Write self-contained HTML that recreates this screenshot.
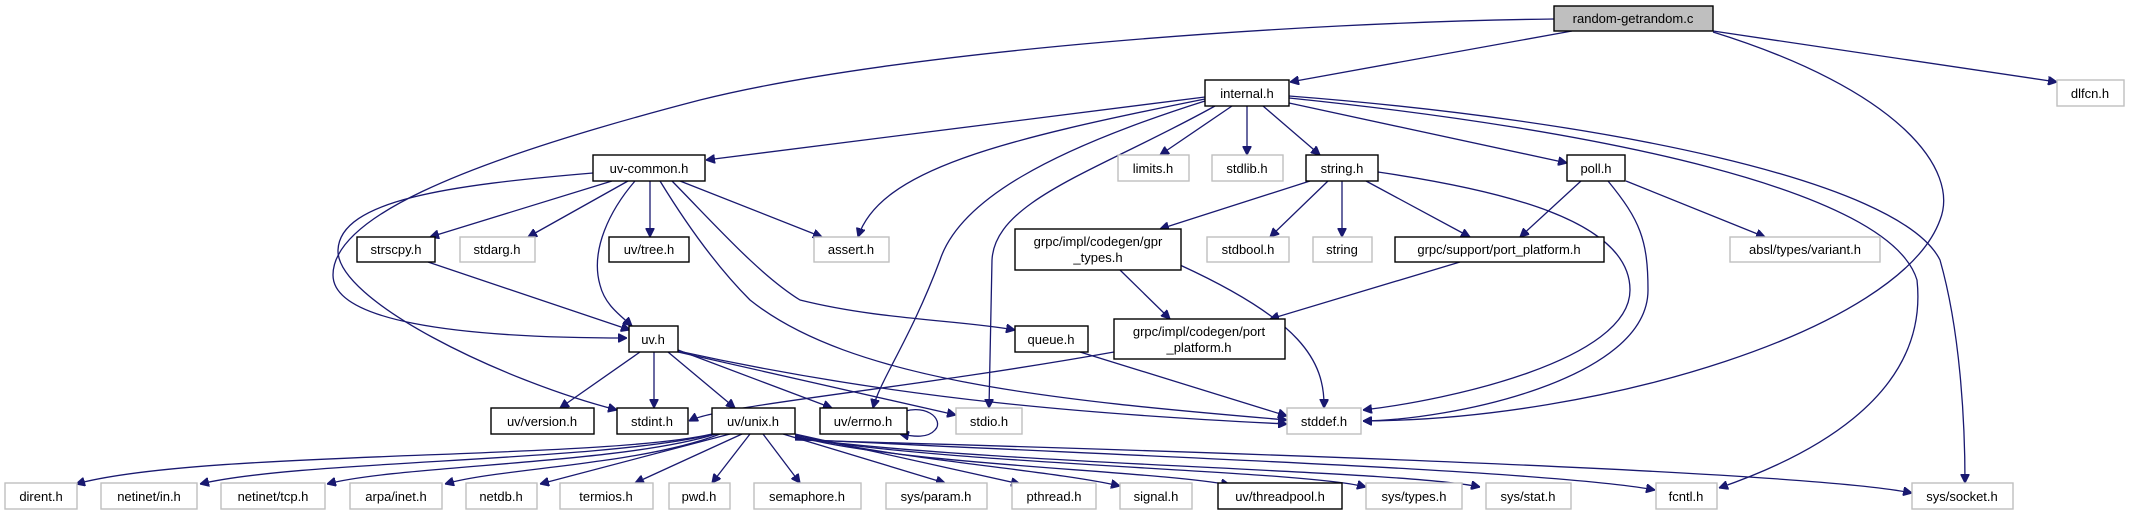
<!DOCTYPE html>
<html><head><meta charset="utf-8"><style>
html,body{margin:0;padding:0;background:#fff;}
svg{display:block}
text{font-family:"Liberation Sans",sans-serif;font-size:13px;fill:#000;text-anchor:middle}
.b{fill:#fff;stroke:#000;stroke-width:1.4}
.g{fill:#fff;stroke:#bfbfbf;stroke-width:1.4}
path{fill:none;stroke:#191970;stroke-width:1.3}
</style></head><body>
<svg width="2129" height="515" viewBox="0 0 2129 515" xmlns="http://www.w3.org/2000/svg">
<defs><marker id="a" viewBox="0 0 10 10" refX="10" refY="5" markerWidth="9" markerHeight="9" markerUnits="userSpaceOnUse" orient="auto"><path d="M0,0 L10,5 L0,10 z" style="fill:#191970;stroke:#191970"/></marker></defs>
<g marker-end="url(#a)">
<path d="M1554,19 C1300,22 900,50 700,100 C450,165 333,220 333,275 C333,320 450,338 627,338"/>
<path d="M1572,31 L1290,82"/>
<path d="M1713,31 L2057,82"/>
<path d="M1713,32 C1900,90 1960,170 1940,220 C1900,330 1600,420 1363,421"/>
<path d="M1205,97 L706,160"/>
<path d="M1205,99 C1000,140 880,170 858,237"/>
<path d="M1205,101 C1050,150 960,200 940,260 C910,340 880,380 873,408"/>
<path d="M1215,106 C1100,170 995,200 992,260 L989,408"/>
<path d="M1232,106 L1160,155"/>
<path d="M1247,106 L1247,155"/>
<path d="M1263,106 L1320,155"/>
<path d="M1289,103 L1567,163"/>
<path d="M1289,96 C1600,120 1900,180 1940,260 C1960,330 1965,420 1965,483"/>
<path d="M1289,98 C1600,130 1890,190 1917,280 C1930,400 1800,460 1719,488"/>
<path d="M612,181 L430,237"/>
<path d="M628,181 L528,237"/>
<path d="M650,181 L650,237"/>
<path d="M680,181 L822,237"/>
<path d="M635,181 C610,210 590,250 600,285 C605,305 620,315 632,326"/>
<path d="M593,173 C450,185 340,200 338,250 C336,300 500,380 617,410"/>
<path d="M672,181 C720,230 760,275 800,300 C880,320 960,320 1015,330"/>
<path d="M660,181 C690,230 720,270 750,300 C850,380 1050,400 1287,420"/>
<path d="M428,262 L630,330"/>
<path d="M640,352 L560,408"/>
<path d="M654,352 L654,408"/>
<path d="M668,352 L735,408"/>
<path d="M678,350 L832,408"/>
<path d="M678,352 L956,415"/>
<path d="M678,351 C900,400 1100,415 1287,424"/>
<path d="M1120,270 L1170,319"/>
<path d="M1180,265 C1300,320 1325,360 1324,408"/>
<path d="M1460,262 L1270,319"/>
<path d="M1114,352 C900,390 720,405 689,421"/>
<path d="M1080,352 L1287,416"/>
<path d="M1310,181 L1160,229"/>
<path d="M1328,181 L1270,237"/>
<path d="M1342,181 L1342,237"/>
<path d="M1366,181 L1470,237"/>
<path d="M1378,172 C1500,190 1630,220 1630,290 C1630,360 1450,400 1363,410"/>
<path d="M1581,181 L1520,237"/>
<path d="M1626,181 L1765,237"/>
<path d="M1608,181 C1640,220 1648,240 1648,290 C1648,380 1450,420 1363,421"/>
<path d="M895,415 C925,400 945,420 935,430 C928,438 915,437 900,434"/>
<path d="M712,434 C600,460 200,450 76,484"/>
<path d="M714,434 C600,462 300,460 200,484"/>
<path d="M716,434 C620,464 400,465 327,484"/>
<path d="M720,434 C640,465 500,468 445,484"/>
<path d="M730,434 L540,484"/>
<path d="M742,434 L635,483"/>
<path d="M750,434 L712,483"/>
<path d="M763,434 L800,483"/>
<path d="M783,434 L945,483"/>
<path d="M795,434 L1020,484"/>
<path d="M795,435 C900,460 1050,470 1120,486"/>
<path d="M795,436 C900,465 1150,470 1230,485"/>
<path d="M795,437 C950,465 1300,470 1366,487"/>
<path d="M795,438 C1000,465 1400,470 1480,487"/>
<path d="M795,439 C1100,455 1550,470 1655,490"/>
<path d="M795,440 C1150,450 1800,470 1912,493"/>
</g>
<g>
<rect x="1554" y="6" width="159" height="25" style="fill:#bfbfbf;stroke:#000;stroke-width:1.4"/><text x="1633" y="23">random-getrandom.c</text>
<rect class="b" x="1205" y="80" width="84" height="26"/><text x="1247" y="98">internal.h</text>
<rect class="g" x="2057" y="80" width="67" height="26"/><text x="2090" y="98">dlfcn.h</text>
<rect class="b" x="593" y="155" width="112" height="26"/><text x="649" y="173">uv-common.h</text>
<rect class="g" x="1118" y="155" width="71" height="26"/><text x="1153" y="173">limits.h</text>
<rect class="g" x="1212" y="155" width="71" height="26"/><text x="1247" y="173">stdlib.h</text>
<rect class="b" x="1306" y="155" width="72" height="26"/><text x="1342" y="173">string.h</text>
<rect class="b" x="1567" y="155" width="58" height="26"/><text x="1596" y="173">poll.h</text>
<rect class="b" x="357" y="237" width="78" height="25"/><text x="396" y="254">strscpy.h</text>
<rect class="g" x="460" y="237" width="75" height="25"/><text x="497" y="254">stdarg.h</text>
<rect class="b" x="609" y="237" width="80" height="25"/><text x="649" y="254">uv/tree.h</text>
<rect class="g" x="814" y="237" width="75" height="25"/><text x="851" y="254">assert.h</text>
<rect class="b" x="1015" y="229" width="166" height="41"/><text x="1098" y="246">grpc/impl/codegen/gpr</text><text x="1098" y="262">_types.h</text>
<rect class="g" x="1207" y="237" width="82" height="25"/><text x="1248" y="254">stdbool.h</text>
<rect class="g" x="1313" y="237" width="59" height="25"/><text x="1342" y="254">string</text>
<rect class="b" x="1395" y="237" width="209" height="25"/><text x="1499" y="254">grpc/support/port_platform.h</text>
<rect class="g" x="1730" y="237" width="150" height="25"/><text x="1805" y="254">absl/types/variant.h</text>
<rect class="b" x="629" y="326" width="49" height="26"/><text x="653" y="344">uv.h</text>
<rect class="b" x="1015" y="326" width="73" height="26"/><text x="1051" y="344">queue.h</text>
<rect class="b" x="1114" y="319" width="171" height="40"/><text x="1199" y="336">grpc/impl/codegen/port</text><text x="1199" y="352">_platform.h</text>
<rect class="b" x="491" y="408" width="103" height="26"/><text x="542" y="426">uv/version.h</text>
<rect class="b" x="617" y="408" width="71" height="26"/><text x="652" y="426">stdint.h</text>
<rect class="b" x="712" y="408" width="83" height="26"/><text x="753" y="426">uv/unix.h</text>
<rect class="b" x="820" y="408" width="87" height="26"/><text x="863" y="426">uv/errno.h</text>
<rect class="g" x="956" y="408" width="66" height="26"/><text x="989" y="426">stdio.h</text>
<rect class="g" x="1287" y="408" width="74" height="26"/><text x="1324" y="426">stddef.h</text>
<rect class="g" x="5" y="483" width="72" height="26"/><text x="41" y="501">dirent.h</text>
<rect class="g" x="101" y="483" width="96" height="26"/><text x="149" y="501">netinet/in.h</text>
<rect class="g" x="221" y="483" width="104" height="26"/><text x="273" y="501">netinet/tcp.h</text>
<rect class="g" x="350" y="483" width="92" height="26"/><text x="396" y="501">arpa/inet.h</text>
<rect class="g" x="466" y="483" width="71" height="26"/><text x="501" y="501">netdb.h</text>
<rect class="g" x="560" y="483" width="93" height="26"/><text x="606" y="501">termios.h</text>
<rect class="g" x="669" y="483" width="61" height="26"/><text x="699" y="501">pwd.h</text>
<rect class="g" x="754" y="483" width="107" height="26"/><text x="807" y="501">semaphore.h</text>
<rect class="g" x="886" y="483" width="101" height="26"/><text x="936" y="501">sys/param.h</text>
<rect class="g" x="1012" y="483" width="84" height="26"/><text x="1054" y="501">pthread.h</text>
<rect class="g" x="1120" y="483" width="72" height="26"/><text x="1156" y="501">signal.h</text>
<rect class="b" x="1218" y="483" width="124" height="26"/><text x="1280" y="501">uv/threadpool.h</text>
<rect class="g" x="1366" y="483" width="96" height="26"/><text x="1414" y="501">sys/types.h</text>
<rect class="g" x="1486" y="483" width="85" height="26"/><text x="1528" y="501">sys/stat.h</text>
<rect class="g" x="1656" y="483" width="61" height="26"/><text x="1686" y="501">fcntl.h</text>
<rect class="g" x="1912" y="483" width="101" height="26"/><text x="1962" y="501">sys/socket.h</text>
</g>
</svg>
</body></html>
